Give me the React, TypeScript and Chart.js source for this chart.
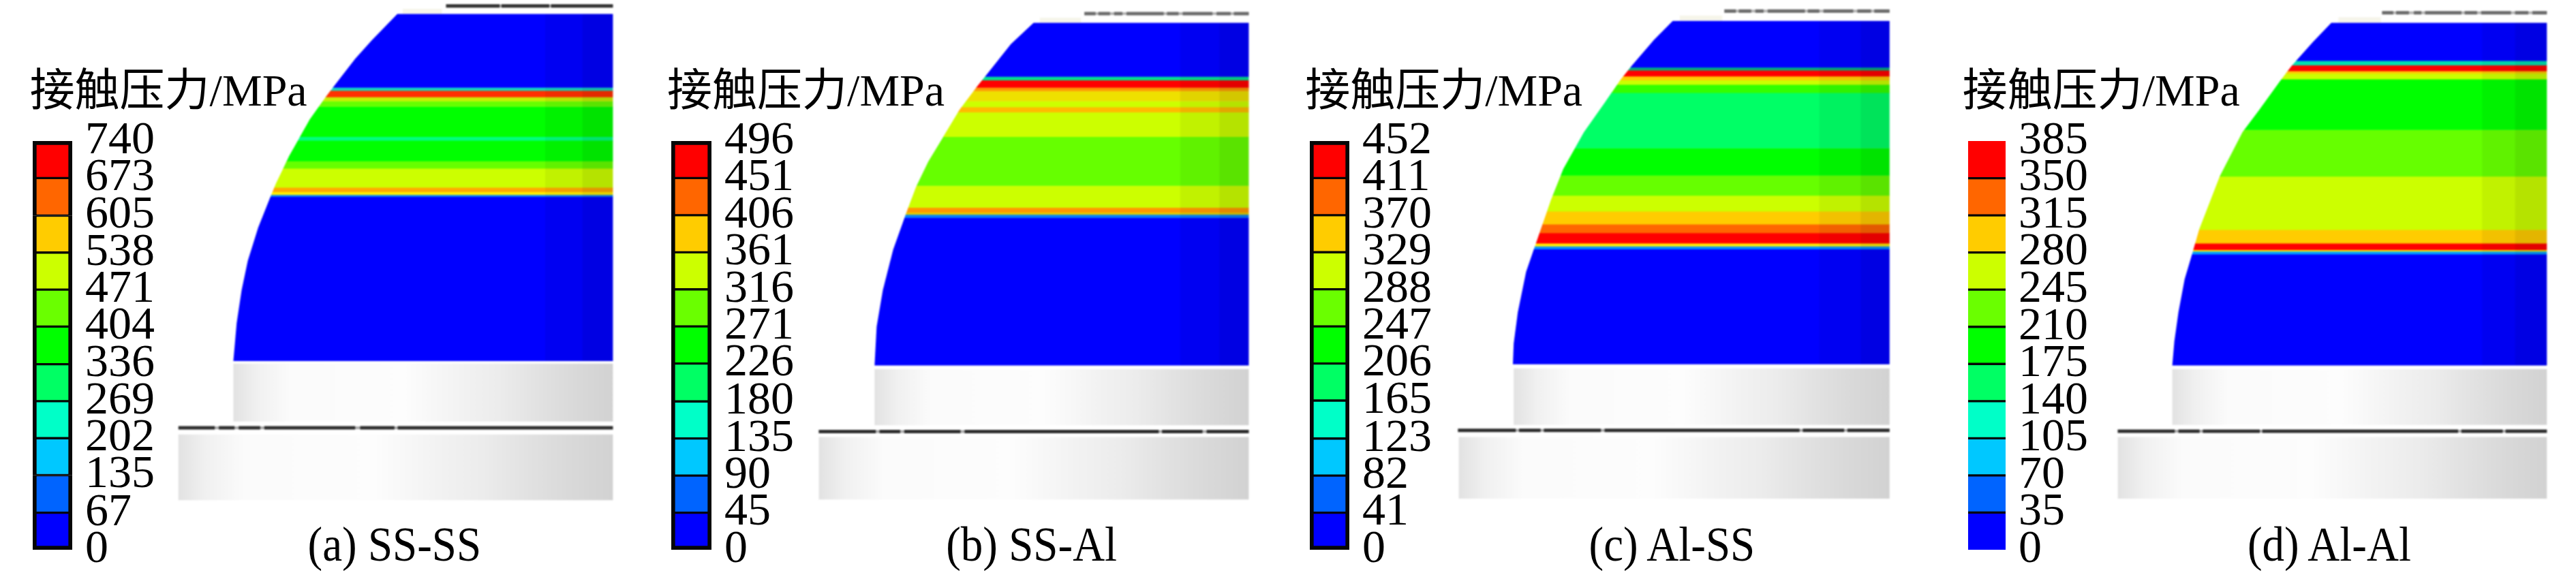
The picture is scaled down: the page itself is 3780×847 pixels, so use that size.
import React, { useEffect, useRef } from "react";
import { Chart, registerables } from "chart.js";

Chart.register(...registerables);

const SERIF = '"Liberation Serif", "Noto Sans CJK SC", serif';
const UNIT_X = 1.65;
const UNIT_Y = 1.855;
const PANEL_W = 950;
const PANEL_H = 847;

const LEVEL_COLORS = ["#0000ff", "#0064ff", "#00c8ff", "#00ffc8", "#00ff64", "#00ff00", "#6aff00", "#ccff00", "#ffcc00", "#ff6600", "#ff0000"];
const SHEEN_STOPS = [0, 0.06, 0.15, 0.45, 0.6, 0.7, 0.8, 0.9, 1];
const SHEEN_GRAYS = ["#e2e2e2", "#f0f0f0", "#fbfbfb", "#fdfdfd", "#f2f2f2", "#ececec", "#e2e2e2", "#d9d9d9", "#d2d2d2"];

const ticksA = [0, 67, 135, 202, 269, 336, 404, 471, 538, 605, 673, 740];
const ticksB = [0, 45, 90, 135, 180, 226, 271, 316, 361, 406, 451, 496];
const ticksC = [0, 41, 82, 123, 165, 206, 247, 288, 329, 370, 411, 452];
const ticksD = [0, 35, 70, 105, 140, 175, 210, 245, 280, 315, 350, 385];

const domeA = [[962, 38], [900, 110], [860, 160], [805, 240], [790, 262], [750, 325], [700, 425], [668, 500], [655, 535], [625, 620], [600, 710], [585, 790], [573, 880], [565, 983]];
const domeB = [[935, 62], [880, 120], [815, 212], [795, 240], [755, 300], [715, 375], [680, 440], [650, 510], [625, 585], [595, 680], [570, 790], [555, 890], [550, 995]];
const domeC = [[915, 57], [870, 108], [815, 180], [790, 215], [750, 280], [700, 360], [650, 460], [620, 545], [600, 610], [583, 665], [560, 740], [540, 850], [530, 935], [528, 992]];
const domeD = [[975, 62], [930, 115], [880, 178], [850, 222], [800, 300], [760, 360], [705, 480], [655, 625], [638, 692], [620, 760], [605, 850], [595, 930], [590, 995]];

const bandEdgesA = [38, 238, 246, 264, 275, 290, 372, 382, 438, 458, 510, 522, 530, 535, 983];
const bandColorsA = ["#0000ff", "#10d8c0", "#ff3000", "#c8f000", "#66ff00", "#00ff00", "#00ff80", "#00ff00", "#66ff00", "#ccff00", "#ffaa00", "#ffee00", "#0080ff", "#0000ff"];
const bandEdgesB = [62, 208, 218, 238, 247, 275, 291, 305, 372, 505, 565, 578, 584, 592, 995];
const bandColorsB = ["#0000ff", "#00e090", "#ff0000", "#ff9900", "#eee000", "#ccff00", "#ffbb00", "#ccff00", "#66ff00", "#ccff00", "#ff9900", "#e0d000", "#0080ff", "#0000ff"];
const bandEdgesC = [57, 183, 191, 207, 218, 230, 252, 403, 477, 532, 575, 610, 634, 662, 670, 678, 992];
const bandColorsC = ["#0000ff", "#00b080", "#ff0000", "#ffcc00", "#ccff00", "#33ff00", "#00ff66", "#00ff00", "#66ff00", "#ccff00", "#ffcc00", "#ff6600", "#ff0000", "#ffee00", "#0090ff", "#0000ff"];
const bandEdgesD = [62, 165, 177, 193, 200, 215, 353, 480, 625, 662, 680, 684, 692, 995];
const bandColorsD = ["#0000ff", "#00e0b0", "#ff0000", "#ffcc00", "#ccff00", "#00ff00", "#66ff00", "#ccff00", "#ffcc00", "#ff0000", "#ffee00", "#00a0ff", "#0000ff"];

const gapLineA = [[432, 520], [530, 568], [578, 630], [640, 860], [872, 955], [963, 1484]];
const gapLineB = [[415, 553], [562, 612], [622, 758], [768, 1238], [1246, 1344], [1354, 1456]];
const gapLineC = [[395, 535], [543, 595], [603, 741], [750, 1222], [1230, 1330], [1338, 1440]];
const gapLineD = [[458, 596], [605, 656], [664, 802], [808, 1282], [1290, 1390], [1397, 1497]];

const topLineA = [[1080, 1210], [1214, 1330], [1334, 1484]];
const topLineB = [[1058, 1085], [1092, 1120], [1130, 1150], [1160, 1250], [1258, 1286], [1296, 1368], [1378, 1412], [1420, 1456]];
const topLineC = [[1040, 1068], [1075, 1105], [1115, 1135], [1145, 1235], [1242, 1270], [1280, 1352], [1362, 1395], [1403, 1440]];
const topLineD = [[1098, 1125], [1132, 1163], [1175, 1193], [1202, 1290], [1298, 1328], [1338, 1410], [1420, 1452], [1462, 1497]];

const panels = [
  { left: 0, caption: "(a) SS-SS", captionX: 745, titleX: 72, barX: [80, 176], frame: true, ticks: ticksA, dome: domeA, edges: bandEdgesA, colors: bandColorsA, right: 1484, shade: [1320, 1410], upper: [565, 990, 1148], lower: [432, 1183, 1362], gapY: 1165, gap: gapLineA, topY: 16, top: topLineA, topColor: "#303030", cap: [975, 1070, 24] },
  { left: 950, caption: "(b) SS-Al", captionX: 723, titleX: 48, barX: [57, 154], frame: true, ticks: ticksB, dome: domeB, edges: bandEdgesB, colors: bandColorsB, right: 1456, shade: [1290, 1385], upper: [550, 1005, 1158], lower: [415, 1190, 1360], gapY: 1175, gap: gapLineB, topY: 37, top: topLineB, topColor: "#6a6a6a", cap: [950, 1050, 48] },
  { left: 1900, caption: "(c) Al-SS", captionX: 712, titleX: 25, barX: [37, 133], frame: true, ticks: ticksC, dome: domeC, edges: bandEdgesC, colors: bandColorsC, right: 1440, shade: [1270, 1370], upper: [530, 1003, 1157], lower: [397, 1190, 1358], gapY: 1172, gap: gapLineC, topY: 30, top: topLineC, topColor: "#6a6a6a", cap: [932, 1035, 42] },
  { left: 2830, caption: "(d) Al-Al", captionX: 772, titleX: 82, barX: [95, 185], frame: false, ticks: ticksD, dome: domeD, edges: bandEdgesD, colors: bandColorsD, right: 1497, shade: [1340, 1420], upper: [590, 1005, 1157], lower: [458, 1190, 1358], gapY: 1174, gap: gapLineD, topY: 35, top: topLineD, topColor: "#6a6a6a", cap: [992, 1095, 47] },
];

function xAt(dome: number[][], y: number) {
  for (let i = 1; i < dome.length; i++) {
    if (y <= dome[i][1]) {
      const [x0, y0] = dome[i - 1];
      const [x1, y1] = dome[i];
      return x0 + ((x1 - x0) * (y - y0)) / (y1 - y0);
    }
  }
  return dome[dome.length - 1][0];
}

function area(points: { x: number; y: number }[], color: any) {
  return { data: points, showLine: true, fill: "shape", backgroundColor: color, borderWidth: 0, pointRadius: 0, tension: 0 };
}

function rect(x0: number, x1: number, y0: number, y1: number, color: any) {
  return area([{ x: x0, y: y0 }, { x: x1, y: y0 }, { x: x1, y: y1 }, { x: x0, y: y1 }], color);
}

function band(dome: number[][], y0: number, y1: number, right: number, color: string) {
  const left = [{ x: xAt(dome, y1), y: y1 }];
  for (let i = dome.length - 1; i >= 0; i--) {
    if (dome[i][1] < y1 && dome[i][1] > y0) left.push({ x: dome[i][0], y: dome[i][1] });
  }
  left.push({ x: xAt(dome, y0), y: y0 });
  return area([{ x: right, y: y1 }, ...left, { x: right, y: y0 }], color);
}

function dashes(parts: number[][], y: number, color: string, width: number) {
  const pts: { x: number; y: number }[] = [];
  parts.forEach(([a, b]) => {
    pts.push({ x: a, y }, { x: b, y }, { x: b + 0.5, y: NaN });
  });
  return { data: pts, showLine: true, fill: false, borderColor: color, borderWidth: width, pointRadius: 0, spanGaps: false };
}

function block(ctx: CanvasRenderingContext2D, x0: number, x1: number, y0: number, y1: number) {
  const g = ctx.createLinearGradient(x0 / UNIT_X, 0, x1 / UNIT_X, 0);
  SHEEN_STOPS.forEach((s, i) => g.addColorStop(s, SHEEN_GRAYS[i]));
  return rect(x0, x1, y0, y1, g);
}

function span(parts: number[][]) {
  return [[parts[0][0], parts[parts.length - 1][1]]];
}

function Contour({ p }: { p: (typeof panels)[number] }) {
  const ref = useRef<HTMLCanvasElement>(null);
  useEffect(() => {
    const ctx = ref.current!.getContext("2d")!;
    const layers: any[] = [];
    layers.push(block(ctx, p.upper[0], p.right, p.upper[1], p.upper[2]));
    layers.push(block(ctx, p.lower[0], p.right, p.lower[1], p.lower[2]));
    layers.push(dashes(span(p.gap), p.gapY, "#a8a8a8", 4));
    layers.push(dashes(p.gap, p.gapY, "#2c2c2c", 5));
    layers.push(dashes(span(p.top), p.topY, "#b4b4b4", 4));
    layers.push(dashes(p.top, p.topY, p.topColor, 5));
    layers.push(rect(p.cap[0], p.cap[1], p.cap[2], p.dome[0][1], "#f6f5ea"));
    for (let i = p.colors.length - 1; i >= 0; i--) {
      const bottom = i === p.colors.length - 1 ? p.edges[i + 1] : p.edges[i + 1] + 1;
      layers.push(band(p.dome, p.edges[i], bottom, p.right, p.colors[i]));
    }
    const yTop = p.edges[0];
    const yEnd = p.edges[p.edges.length - 1];
    layers.push(rect(p.shade[0], p.right, yTop, yEnd, "rgba(0,0,0,0.05)"));
    layers.push(rect(p.shade[1], p.right, yTop, yEnd, "rgba(0,0,0,0.06)"));
    const chart = new Chart(ref.current!, {
      type: "scatter",
      data: { datasets: layers.reverse() },
      options: {
        animation: false,
        responsive: false,
        devicePixelRatio: 1,
        layout: { padding: 0 },
        plugins: { legend: { display: false }, tooltip: { enabled: false }, title: { display: false } },
        scales: {
          x: { type: "linear", display: false, min: 0, max: PANEL_W * UNIT_X },
          y: { type: "linear", display: false, min: 0, max: PANEL_H * UNIT_Y, reverse: true },
        },
      },
    } as any);
    return () => chart.destroy();
  }, [p]);
  return <canvas ref={ref} width={PANEL_W} height={PANEL_H} style={{ position: "absolute", left: p.left, top: 0, width: PANEL_W, height: PANEL_H, filter: "blur(0.9px)" }} />;
}

function ColorBar({ p }: { p: (typeof panels)[number] }) {
  const ref = useRef<HTMLCanvasElement>(null);
  const barL = p.barX[0] / UNIT_X;
  const barW = (p.barX[1] - p.barX[0]) / UNIT_X;
  const axisW = 140;
  const pad = 80;
  const barTop = 207;
  const barH = 600;
  useEffect(() => {
    const n = p.ticks.length - 1;
    const f = p.frame ? 6 : 0;
    const datasets = LEVEL_COLORS.map((c, i) => ({
      label: String(p.ticks[i]),
      data: [p.ticks[i + 1] - p.ticks[i]],
      backgroundColor: c,
      borderColor: "#060606",
      borderSkipped: false,
      borderWidth: { left: f, right: f, top: i === n - 1 ? f : 2, bottom: i === 0 ? f : 2 },
      stack: "s",
      barPercentage: 1,
      categoryPercentage: 1,
    }));
    const chart = new Chart(ref.current!, {
      type: "bar",
      data: { labels: [""], datasets },
      options: {
        animation: false,
        responsive: false,
        devicePixelRatio: 1,
        layout: { padding: { top: pad, bottom: pad, left: 0, right: 0 } },
        plugins: { legend: { display: false }, tooltip: { enabled: false } },
        scales: {
          x: { display: false, stacked: true },
          y: {
            position: "right",
            stacked: true,
            min: 0,
            max: p.ticks[n],
            grid: { display: false, drawTicks: false },
            border: { display: false },
            afterFit: (s: any) => { s.width = axisW; },
            afterBuildTicks: (s: any) => { s.ticks = p.ticks.map((v) => ({ value: v })); },
            ticks: { autoSkip: false, color: "#000", padding: 19, font: { family: SERIF, size: 68 }, callback: (v: any) => String(v) },
          },
        },
      },
    } as any);
    return () => chart.destroy();
  }, [p]);
  return <canvas ref={ref} width={Math.round(barW + axisW)} height={barH + 2 * pad} style={{ position: "absolute", left: p.left + barL, top: barTop - pad, filter: "blur(0.6px)" }} />;
}

function Label({ x, y, size, text, stretch }: { x: number; y: number; size: number; text: string; stretch: number }) {
  return <div style={{ position: "absolute", left: x, top: y, fontFamily: SERIF, fontSize: size, lineHeight: `${size}px`, color: "#000", whiteSpace: "nowrap", filter: "blur(0.4px)", transform: `scale(1, ${stretch})`, transformOrigin: "left top" }}>{text}</div>;
}

export default function App() {
  return (
    <div style={{ position: "absolute", left: 0, top: 0, width: 3780, height: 847, background: "#fff", overflow: "hidden" }}>
      {panels.map((p) => (
        <React.Fragment key={p.caption}>
          <Contour p={p} />
          <ColorBar p={p} />
          <Label x={p.left + p.titleX / UNIT_X} y={100} size={66} text="接触压力/MPa" stretch={1} />
          <Label x={p.left + p.captionX / UNIT_X} y={764} size={65} text={p.caption} stretch={1.1} />
        </React.Fragment>
      ))}
    </div>
  );
}
